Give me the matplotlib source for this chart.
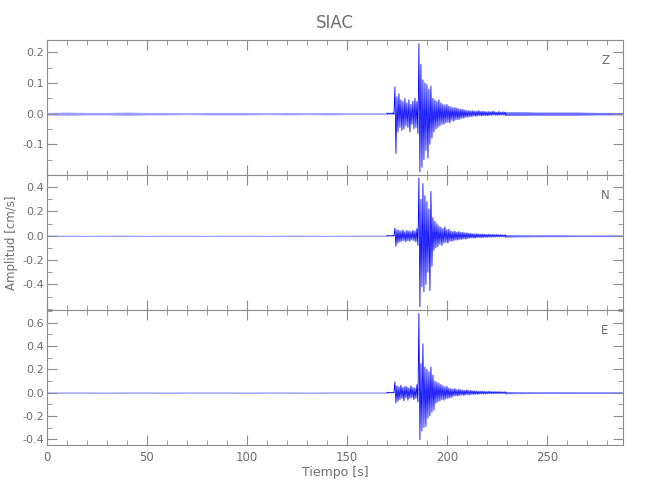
import numpy as np
import matplotlib
matplotlib.use('Agg')
import matplotlib.pyplot as plt
from matplotlib.ticker import MultipleLocator, FixedLocator

# sampling grid of the values (seconds)
t_pre = [0, 10, 20, 30, 40, 50, 60, 70, 80, 90, 100, 110, 120, 130, 140, 150, 160, 170]
t_evt = list(range(170, 230))
t_post = [229, 235, 245, 255, 265, 275, 288]

# Z component: noise before, peak max / min per second in the event, noise after
z_pre = [0.003, 0.004, 0.003, 0.003, 0.004, 0.003, 0.003, 0.002, 0.003, 0.003,
         0.003, 0.002, 0.003, 0.002, 0.003, 0.002, 0.002, 0.002]
z_hi = [0.002, 0.002, 0.002, 0.003, 0.087, 0.055, 0.065, 0.045, 0.040, 0.050,
        0.035, 0.045, 0.030, 0.040, 0.050, 0.040, 0.228, 0.160, 0.110, 0.100,
        0.095, 0.080, 0.090, 0.050, 0.045, 0.040, 0.045, 0.035, 0.030, 0.028,
        0.030, 0.025, 0.022, 0.020, 0.020, 0.018, 0.015, 0.015, 0.014, 0.012,
        0.010, 0.010, 0.009, 0.010, 0.008, 0.008, 0.010, 0.007, 0.008, 0.007,
        0.006, 0.007, 0.006, 0.008, 0.006, 0.005, 0.007, 0.005, 0.006, 0.005]
z_lo = [-0.002, -0.002, -0.002, -0.003, -0.130, -0.060, -0.045, -0.055, -0.050, -0.040,
        -0.045, -0.060, -0.035, -0.050, -0.045, -0.065, -0.190, -0.175, -0.150, -0.120,
        -0.145, -0.100, -0.080, -0.060, -0.050, -0.045, -0.040, -0.035, -0.035, -0.030,
        -0.028, -0.030, -0.022, -0.025, -0.020, -0.020, -0.018, -0.015, -0.015, -0.012,
        -0.012, -0.010, -0.010, -0.008, -0.009, -0.008, -0.007, -0.008, -0.007, -0.007,
        -0.007, -0.006, -0.006, -0.005, -0.006, -0.006, -0.005, -0.005, -0.005, -0.005]
z_post = [0.005, 0.005, 0.004, 0.004, 0.004, 0.003, 0.003]

# N component
n_pre = [0.003, 0.003, 0.002, 0.003, 0.003, 0.002, 0.003, 0.003, 0.002, 0.003,
         0.003, 0.002, 0.003, 0.003, 0.002, 0.003, 0.003, 0.003]
n_hi = [0.003, 0.003, 0.003, 0.003, 0.063, 0.050, 0.045, 0.040, 0.050, 0.035,
        0.045, 0.040, 0.035, 0.045, 0.040, 0.060, 0.476, 0.300, 0.430, 0.330,
        0.280, 0.220, 0.365, 0.150, 0.120, 0.100, 0.080, 0.070, 0.060, 0.075,
        0.050, 0.055, 0.040, 0.035, 0.040, 0.030, 0.035, 0.028, 0.030, 0.025,
        0.025, 0.022, 0.020, 0.018, 0.016, 0.018, 0.015, 0.014, 0.015, 0.013,
        0.012, 0.014, 0.011, 0.012, 0.010, 0.011, 0.009, 0.010, 0.008, 0.009]
n_lo = [-0.003, -0.003, -0.003, -0.003, -0.088, -0.060, -0.050, -0.045, -0.040, -0.050,
        -0.040, -0.045, -0.035, -0.040, -0.050, -0.080, -0.583, -0.420, -0.460, -0.400,
        -0.300, -0.450, -0.250, -0.120, -0.100, -0.090, -0.070, -0.080, -0.060, -0.055,
        -0.060, -0.045, -0.045, -0.040, -0.035, -0.035, -0.030, -0.030, -0.025, -0.028,
        -0.022, -0.020, -0.018, -0.020, -0.018, -0.015, -0.015, -0.016, -0.013, -0.013,
        -0.013, -0.011, -0.012, -0.010, -0.011, -0.009, -0.010, -0.009, -0.009, -0.008]
n_post = [0.008, 0.006, 0.005, 0.005, 0.004, 0.004, 0.004]

# E component
e_pre = [0.003, 0.003, 0.003, 0.002, 0.003, 0.003, 0.002, 0.003, 0.003, 0.003,
         0.002, 0.003, 0.003, 0.002, 0.003, 0.003, 0.003, 0.003]
e_hi = [0.003, 0.003, 0.003, 0.003, 0.094, 0.060, 0.050, 0.065, 0.045, 0.055,
        0.050, 0.040, 0.060, 0.045, 0.040, 0.070, 0.680, 0.250, 0.420, 0.220,
        0.200, 0.180, 0.220, 0.150, 0.100, 0.090, 0.080, 0.070, 0.060, 0.050,
        0.055, 0.040, 0.035, 0.030, 0.035, 0.025, 0.030, 0.025, 0.022, 0.020,
        0.025, 0.018, 0.020, 0.015, 0.016, 0.014, 0.013, 0.012, 0.013, 0.011,
        0.010, 0.012, 0.010, 0.009, 0.010, 0.008, 0.009, 0.008, 0.007, 0.008]
e_lo = [-0.003, -0.003, -0.003, -0.003, -0.090, -0.075, -0.060, -0.050, -0.070, -0.045,
        -0.065, -0.050, -0.045, -0.060, -0.050, -0.080, -0.405, -0.330, -0.300, -0.290,
        -0.220, -0.200, -0.170, -0.150, -0.090, -0.080, -0.070, -0.060, -0.065, -0.055,
        -0.050, -0.045, -0.040, -0.030, -0.028, -0.030, -0.025, -0.022, -0.025, -0.020,
        -0.018, -0.020, -0.015, -0.017, -0.014, -0.015, -0.012, -0.013, -0.011, -0.012,
        -0.011, -0.010, -0.009, -0.010, -0.008, -0.009, -0.008, -0.008, -0.008, -0.007]
e_post = [0.008, 0.006, 0.005, 0.005, 0.004, 0.004, 0.004]

components = ["Z", "N", "E"]
ylims = [(-0.20, 0.24), (-0.61, 0.50), (-0.45, 0.71)]
yticks = [[-0.1, 0.0, 0.1, 0.2],
          [-0.4, -0.2, 0.0, 0.2, 0.4],
          [-0.4, -0.2, 0.0, 0.2, 0.4, 0.6]]
yminor = [0.05, 0.1, 0.1]
traces = [(z_pre, z_hi, z_lo, z_post), (n_pre, n_hi, n_lo, n_post), (e_pre, e_hi, e_lo, e_post)]

gray = '#8c8c8c'
txt = '#6e6e6e'
blue = '#0000ff'


fig = plt.figure(figsize=(6.5, 5), dpi=100)
bottoms = [0.65, 0.38, 0.11]

for i, comp in enumerate(components):
    pre, hi, lo, post = traces[i]
    ax = fig.add_axes([0.0723, bottoms[i], 0.886, 0.27])

    # quiet noise before and after the event, drawn as a thin band
    pre = np.array(pre)
    post = np.array(post)
    ax.fill_between(t_pre, -pre, pre, color='#9a9aff', lw=0.4)
    ax.fill_between(t_post, -post, post, color='#6a6aff', lw=0.4)

    # event: alternate peak / trough inside each second
    tt = np.ravel(np.column_stack([t_evt, np.array(t_evt) + 0.5]))
    yy = np.ravel(np.column_stack([hi, lo]))
    ax.plot(tt, yy, color=blue, lw=0.6)

    ax.set_xlim(0, 288)
    ax.set_ylim(*ylims[i])
    ax.xaxis.set_major_locator(MultipleLocator(50))
    ax.xaxis.set_minor_locator(MultipleLocator(10))
    ax.yaxis.set_major_locator(FixedLocator(yticks[i]))
    ax.yaxis.set_minor_locator(MultipleLocator(yminor[i]))
    ax.yaxis.set_major_formatter(plt.FuncFormatter(lambda v, p: f'{v:.1f}'))
    ax.tick_params(which='both', direction='in', top=True, right=True,
                   color=gray, labelcolor=txt, labelsize=8, pad=2)
    ax.tick_params(which='major', length=7)
    ax.tick_params(which='minor', length=3.5)
    for s in ax.spines.values():
        s.set_color(gray)
        s.set_linewidth(0.8)
    if i < 2:
        ax.tick_params(labelbottom=False)
    else:
        ax.tick_params(axis='x', pad=4, labelsize=8.5)
        ax.set_xlabel('Tiempo [s]', color=txt, fontsize=9, labelpad=2)
    ax.text(0.969, 0.85, comp, transform=ax.transAxes, color=txt, fontsize=8.5,
            ha='center', va='center')

fig.text(0.018, 0.515, 'Amplitud [cm/s]', rotation=90, ha='center', va='center',
         color=txt, fontsize=8.5)
fig.text(0.515, 0.955, 'SIAC', ha='center', va='center', color=txt, fontsize=12)

plt.savefig('out.png', dpi=100)
